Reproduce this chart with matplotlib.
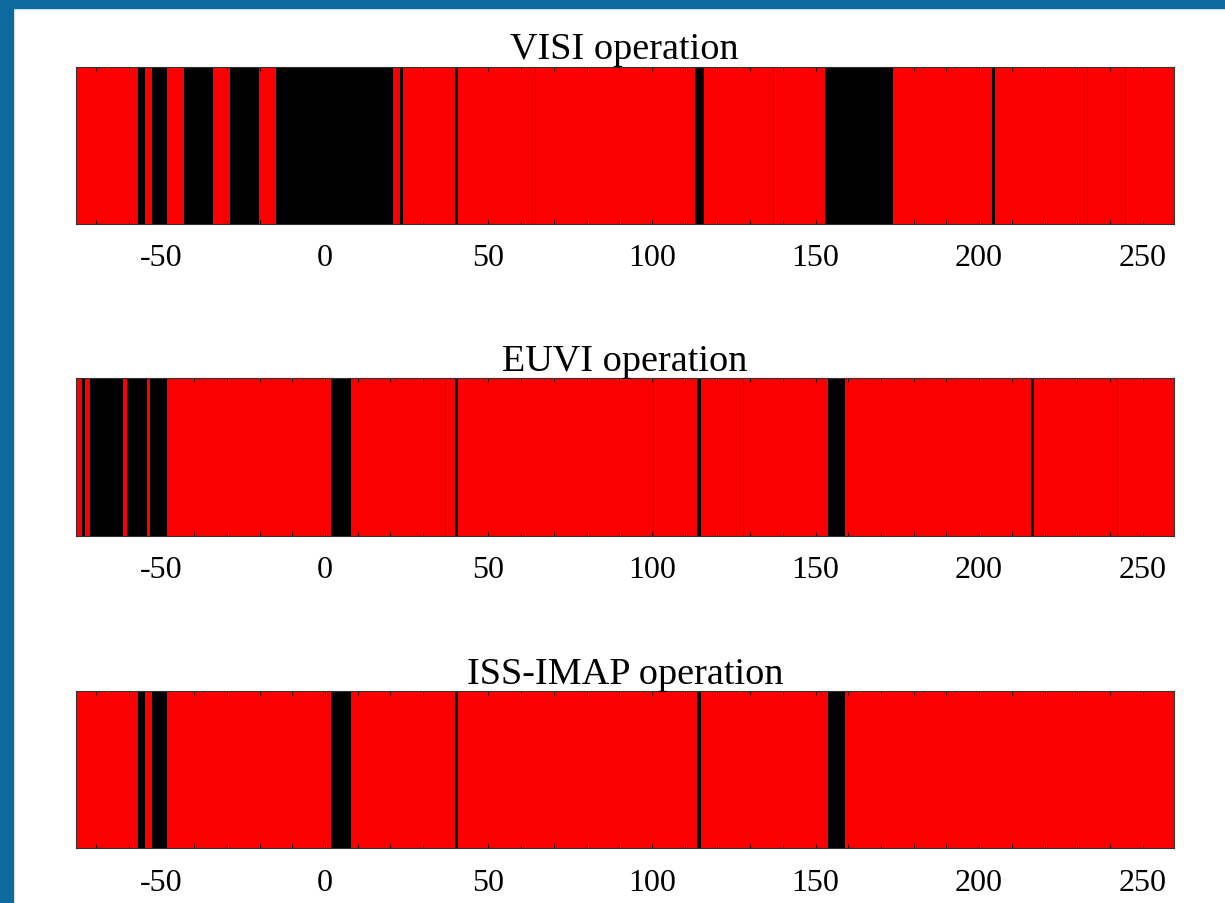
import numpy as np
import matplotlib.pyplot as plt
from matplotlib.patches import Rectangle
from matplotlib.ticker import MultipleLocator

plt.rcParams['font.family'] = ['Liberation Serif', 'DejaVu Serif']
plt.rcParams['axes.unicode_minus'] = False

# x range of the orbit axis
x_min, x_max = -76.2, 259.6

titles = ['VISI operation', 'EUVI operation', 'ISS-IMAP operation']

# intervals where the instrument is off (black)
visi_off_start = [-57.3, -53.0, -43.0, -29.1, -15.0, 22.9, 39.8, 113.1, 152.9, 203.9]
visi_off_end = [-55.0, -48.2, -34.2, -20.1, 20.9, 23.9, 40.8, 115.9, 173.8, 204.9]
visi_edges = [64.2, 137.1, 232.9, 244.6]

euvi_off_start = [-76.2, -74.4, -71.7, -60.6, -53.5, 2.0, 39.8, 113.9, 153.9, 215.8]
euvi_off_end = [-75.7, -73.4, -61.7, -54.5, -48.2, 7.9, 40.8, 114.9, 159.0, 216.8]
euvi_edges = [36.7, 100.4, 127.7, 242.1]

iss_off_start = [-57.3, -53.0, 2.0, 39.8, 113.9, 153.9]
iss_off_end = [-55.0, -48.2, 7.9, 40.8, 114.9, 159.0]
iss_edges = []

panels = [
    (visi_off_start, visi_off_end, visi_edges),
    (euvi_off_start, euvi_off_end, euvi_edges),
    (iss_off_start, iss_off_end, iss_edges),
]

fig = plt.figure(figsize=(12.25, 9.04), dpi=100)

# blue frame on top and left
fig.patches.append(Rectangle((0, 0.99), 1, 0.01, transform=fig.transFigure,
                             color='#0d6a9e', zorder=0))
fig.patches.append(Rectangle((0, 0), 0.0106, 1, transform=fig.transFigure,
                             color='#0d6a9e', zorder=0))

bottoms = [0.7511, 0.4063, 0.0605]
for (starts, ends, edges), title, b in zip(panels, titles, bottoms):
    ax = fig.add_axes([0.0618, b, 0.8966, 0.174])
    ax.broken_barh([(x_min, x_max - x_min)], (0, 1), facecolors='#fb0000')
    for e in edges:
        ax.axvline(e, color='#c80000', lw=0.7)
    spans = [(s, e - s) for s, e in zip(starts, ends)]
    ax.broken_barh(spans, (0, 1), facecolors='black', linewidth=0)
    ax.set_xlim(x_min, x_max)
    ax.set_ylim(0, 1)
    ax.set_yticks([])
    ax.xaxis.set_major_locator(MultipleLocator(50))
    ax.xaxis.set_minor_locator(MultipleLocator(10))
    ax.tick_params(axis='x', which='both', direction='in', top=True, length=3,
                   width=0.6, labelsize=23, pad=14)
    for sp in ax.spines.values():
        sp.set_linewidth(0.8)
        sp.set_color('#333333')
    ax.set_title(title, fontsize=27.5, pad=6)

fig.savefig('out.png', dpi=100)
